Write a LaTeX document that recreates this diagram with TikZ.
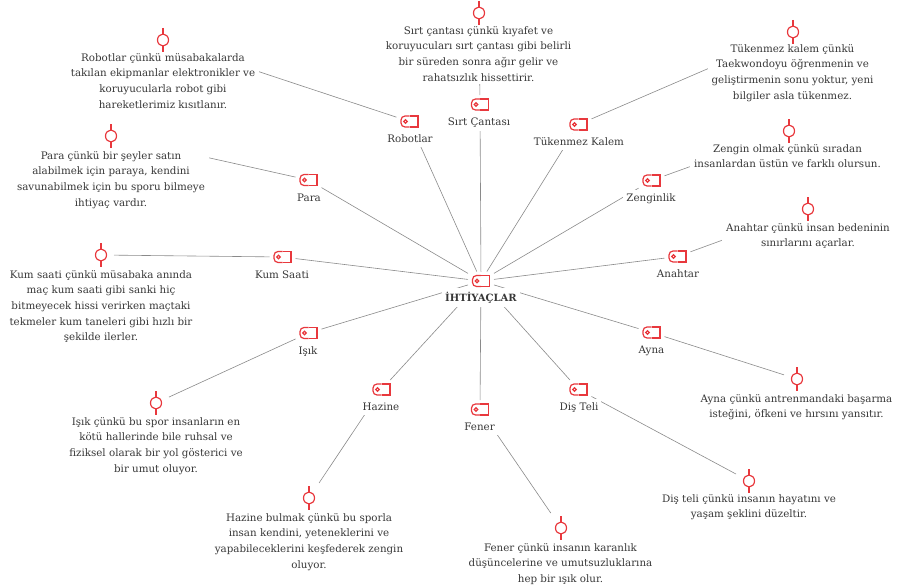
\documentclass[tikz,border=0pt]{standalone}
\usepackage{fontspec}
\setmainfont{DejaVu Serif}
\usetikzlibrary{backgrounds}
\definecolor{tagred}{HTML}{E8383D}
\definecolor{ink}{HTML}{383838}
\definecolor{wire}{HTML}{8A8A8A}
\tikzset{
  redline/.style={draw=tagred, line width=1.2pt},
  link/.style={draw=wire, line width=0.6pt},
  % tag icon of a topic
  tagmark/.style={minimum width=21pt, minimum height=14pt, inner sep=0pt, outer sep=2.5pt,
    path picture={
      \begin{scope}[shift={(path picture bounding box.center)}]
        \draw[redline, rounded corners=4pt] (0,-5.5) -- (-8.5,-5.5) -- (-8.5,5.5) -- (0,5.5);
        \draw[redline] (0,5.5) -- (8.5,5.5) -- (8.5,-5.5) -- (0,-5.5);
        \draw[redline] (-4,0) circle[radius=1.8];
      \end{scope}}},
  % pin icon of a note
  pinmark/.style={minimum width=21pt, minimum height=25pt, inner sep=0pt, outer sep=2.5pt,
    path picture={
      \begin{scope}[shift={(path picture bounding box.center)}]
        \draw[redline] (0,-12) -- (0,-6) (0,6) -- (0,12);
        \draw[redline] (0,0) ellipse[x radius=5.5, y radius=6];
      \end{scope}}},
  branch/.style={anchor=base, text=ink, fill=white, inner xsep=3pt, inner ysep=4pt,
    font=\fontsize{10.3}{15.7}\selectfont},
  note/.style={anchor=north, align=center, text=ink, fill=white, inner xsep=4pt, inner ysep=3pt,
    font=\fontsize{10.3}{15.7}\selectfont}
}
\begin{document}
\begin{tikzpicture}[x=1pt,y=-1pt]
\useasboundingbox (0,0) rectangle (897,586);

% center
\node[branch, font=\bfseries\fontsize{10}{15.7}\selectfont] (hub) at (481,301) {İHTİYAÇLAR};
\node[tagmark] (hubmark) at (481,281) {};

% topics
\node[branch] (robot) at (410,142.5) {Robotlar};
\node[tagmark] (robotmark) at (409.5,121.5) {};
\node[branch] (sirt) at (479,125.5) {Sırt Çantası};
\node[tagmark] (sirtmark) at (480,104.5) {};
\node[branch] (kalem) at (579,145.5) {Tükenmez Kalem};
\node[tagmark] (kalemmark) at (578.5,124.5) {};
\node[branch] (para) at (309,201.5) {Para};
\node[tagmark] (paramark) at (308.5,180) {};
\node[branch] (zengin) at (651,201.5) {Zenginlik};
\node[tagmark] (zenginmark) at (651.5,180.5) {};
\node[branch] (kum) at (282,278) {Kum Saati};
\node[tagmark] (kummark) at (282.5,257) {};
\node[branch] (anahtar) at (678,277.5) {Anahtar};
\node[tagmark] (anahtarmark) at (677.5,256.5) {};
\node[branch] (isik) at (308,354) {Işık};
\node[tagmark] (isikmark) at (308.5,333) {};
\node[branch] (ayna) at (651.5,353.5) {Ayna};
\node[tagmark] (aynamark) at (651.5,332.5) {};
\node[branch] (hazine) at (381,410.5) {Hazine};
\node[tagmark] (hazinemark) at (381.5,389.5) {};
\node[branch] (fener) at (479.5,430.5) {Fener};
\node[tagmark] (fenermark) at (480,409.5) {};
\node[branch] (dis) at (579,410.5) {Diş Teli};
\node[tagmark] (dismark) at (578.5,389.5) {};

% notes (a wider pin box where the link would run over the note)
\node[note] (robotnote) at (163,50) {Robotlar çünkü müsabakalarda\\takılan ekipmanlar elektronikler ve\\koruyucularla robot gibi\\hareketlerimiz kısıtlanır.};
\node[pinmark, minimum width=62pt] (robotpin) at (163,40) {};
\node[note] (sirtnote) at (478.5,23) {Sırt çantası çünkü kıyafet ve\\koruyucuları sırt çantası gibi belirli\\bir süreden sonra ağır gelir ve\\rahatsızlık hissettirir.};
\node[pinmark] (sirtpin) at (479,13) {};
\node[note] (kalemnote) at (792.5,41) {Tükenmez kalem çünkü\\Taekwondoyu öğrenmenin ve\\geliştirmenin sonu yoktur, yeni\\bilgiler asla tükenmez.};
\node[pinmark, minimum width=46pt] (kalempin) at (793,32) {};
\node[note] (paranote) at (111,148) {Para çünkü bir şeyler satın\\alabilmek için paraya, kendini\\savunabilmek için bu sporu bilmeye\\ihtiyaç vardır.};
\node[pinmark, minimum width=112pt] (parapin) at (111,136) {};
\node[note] (zenginnote) at (787.5,141) {Zengin olmak çünkü sıradan\\insanlardan üstün ve farklı olursun.};
\node[pinmark, minimum width=62pt] (zenginpin) at (789,131) {};
\node[note] (kumnote) at (101,267) {Kum saati çünkü müsabaka anında\\maç kum saati gibi sanki hiç\\bitmeyecek hissi verirken maçtaki\\tekmeler kum taneleri gibi hızlı bir\\şekilde ilerler.};
\node[pinmark] (kumpin) at (101,255) {};
\node[note] (anahtarnote) at (808,220) {Anahtar çünkü insan bedeninin\\sınırlarını açarlar.};
\node[pinmark, minimum width=66pt] (anahtarpin) at (808,209) {};
\node[note] (isiknote) at (156,414) {Işık çünkü bu spor insanların en\\kötü hallerinde bile ruhsal ve\\fiziksel olarak bir yol gösterici ve\\bir umut oluyor.};
\node[pinmark] (isikpin) at (156,403) {};
\node[note] (aynanote) at (796.5,391) {Ayna çünkü antrenmandaki başarma\\isteğini, öfkeni ve hırsını yansıtır.};
\node[pinmark] (aynapin) at (797,379) {};
\node[note] (hazinenote) at (309,510) {Hazine bulmak çünkü bu sporla\\insan kendini, yeteneklerini ve\\yapabileceklerini keşfederek zengin\\oluyor.};
\node[pinmark] (hazinepin) at (309,498) {};
\node[note] (fenernote) at (560.5,540) {Fener çünkü insanın karanlık\\düşüncelerine ve umutsuzluklarına\\hep bir ışık olur.};
\node[pinmark] (fenerpin) at (561,528) {};
\node[note] (disnote) at (749,491) {Diş teli çünkü insanın hayatını ve\\yaşam şeklini düzeltir.};
\node[pinmark] (dispin) at (749,481) {};

% connectors
\begin{scope}[on background layer]
\foreach \t in {robot,sirt,kalem,para,zengin,kum,anahtar,isik,ayna,hazine,fener,dis}{
  \draw[link] (hubmark) -- (\t mark);
  \draw[link] (\t mark) -- (\t pin);
}
\end{scope}
\end{tikzpicture}
\end{document}
